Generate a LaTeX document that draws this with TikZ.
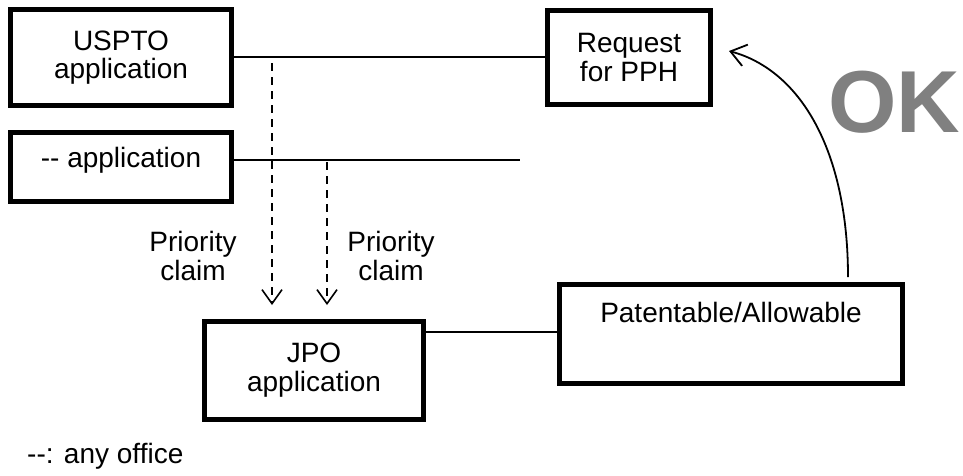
\documentclass[tikz,border=0pt]{standalone}
\usepackage{fontspec}
\newfontfamily\lsans{Liberation Sans}
\usetikzlibrary{arrows.meta}
\begin{document}
\begin{tikzpicture}[x=1pt,y=-1pt,
  box/.style={draw, line width=5pt, inner sep=0pt, align=center, font=\lsans\fontsize{28}{28.5}\selectfont},
  txt/.style={inner sep=0pt, align=center, font=\lsans\fontsize{28}{28.5}\selectfont},
  conn/.style={line width=2pt},
  prioarrow/.style={line width=1.6pt, dash pattern=on 8pt off 6pt, -{Straight Barb[length=14pt,width=20pt,line width=1.6pt]}},
  curvearrow/.style={line width=1.8pt, -{Straight Barb[length=15pt,width=22pt,line width=1.8pt]}}
]
\useasboundingbox (0,0) rectangle (963,475);
% boxes
\node[box, minimum width=221pt, minimum height=96pt] (us) at (121,57.5) {USPTO\\application};
\node[box, minimum width=221pt, minimum height=69pt] (any) at (121,167) {};
\node[txt] (anyt) at (121,160) {-- application};
\node[box, minimum width=163pt, minimum height=94pt] (req) at (629,57.5) {Request\\for PPH};
\node[box, minimum width=219pt, minimum height=98pt] (jpo) at (314,370) {JPO\\application};
\node[box, minimum width=343pt, minimum height=99pt] (pat) at (731,334) {};
\node[txt] (patt) at (731,312) {Patentable/Allowable};
% connectors
\draw[conn] (us.east |- 0,57) -- (req.west |- 0,57);
\coordinate (anyend) at (520,160);
\draw[conn] (any.east |- 0,160) -- (anyend);
\draw[conn] (jpo.east |- 0,332) -- (pat.west |- 0,332);
% priority claims
\coordinate (d1s) at (272,63);
\coordinate (d1e) at (272,305);
\coordinate (d2s) at (327,162);
\coordinate (d2e) at (327,305);
\draw[prioarrow] (d1s) -- (d1e);
\draw[prioarrow] (d2s) -- (d2e);
\node[txt] (pc1) at (193,256) {Priority\\claim};
\node[txt] (pc2) at (391,256) {Priority\\claim};
% curve
\coordinate (cs) at (848,277);
\coordinate (ce) at (729,51);
\draw[curvearrow] (cs) .. controls (848,150) and (800,70) .. (ce);
% OK
\node[inner sep=0pt, text=black!50, font=\lsans\bfseries\fontsize{88}{88}\selectfont] (ok) at (894,102) {OK};
% legend
\node[txt, anchor=west] (leg) at (27,456) {--: any office};
\end{tikzpicture}
\end{document}
